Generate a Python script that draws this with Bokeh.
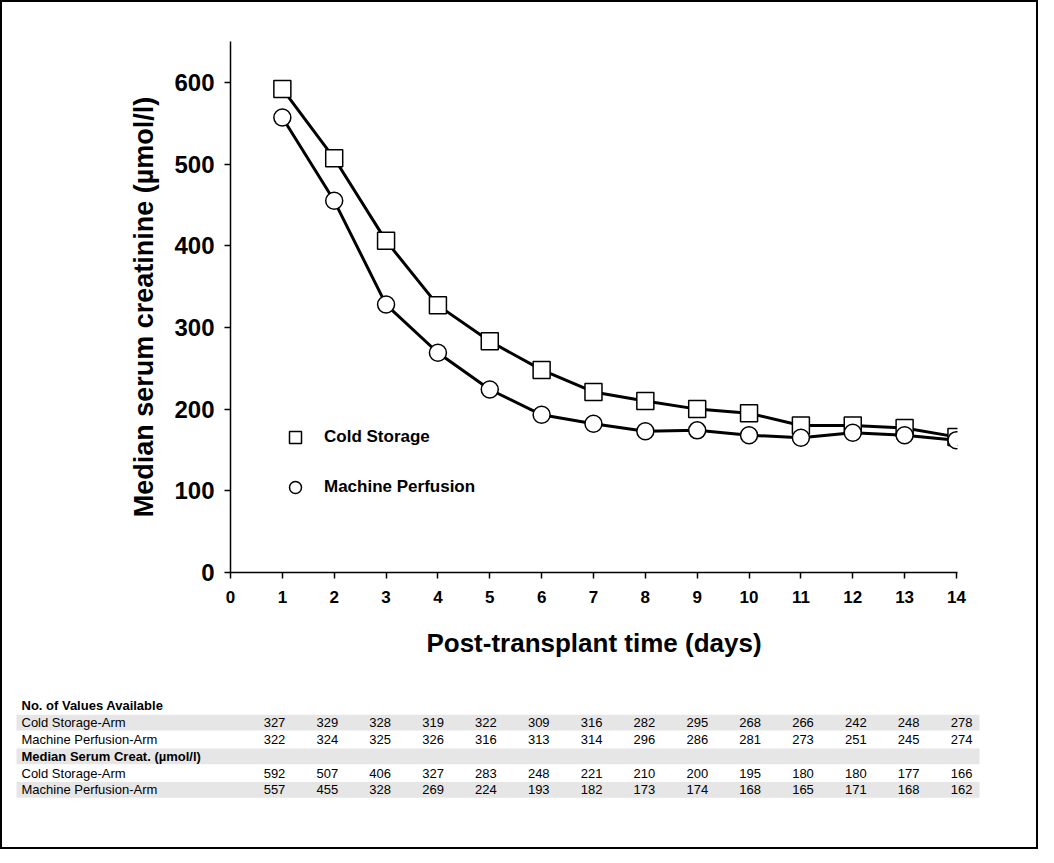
from bokeh.plotting import figure
from bokeh.models import Range1d, FixedTicker, Legend, LegendItem
from bokeh.layouts import column
from bokeh.core.properties import value
from bokeh.embed import file_html
from bokeh.resources import INLINE

days = list(range(1, 15))
n_cold = [327, 329, 328, 319, 322, 309, 316, 282, 295, 268, 266, 242, 248, 278]
n_mach = [322, 324, 325, 326, 316, 313, 314, 296, 286, 281, 273, 251, 245, 274]
med_cold = [592, 507, 406, 327, 283, 248, 221, 210, 200, 195, 180, 180, 177, 166]
med_mach = [557, 455, 328, 269, 224, 193, 182, 173, 174, 168, 165, 171, 168, 162]

FONT = "Liberation Sans"
W = 1034

p = figure(width=W, height=690, x_range=Range1d(0, 14.02), y_range=Range1d(0, 650),
           output_backend="svg", toolbar_location=None,
           min_border_left=228, min_border_right=79, min_border_top=39, min_border_bottom=120)
p.outline_line_color = None
p.grid.visible = False
p.xaxis.ticker = FixedTicker(ticks=list(range(0, 15)))
p.yaxis.ticker = FixedTicker(ticks=[0, 100, 200, 300, 400, 500, 600])
for ax in (p.xaxis[0], p.yaxis[0]):
    ax.axis_line_width = 1.5
    ax.major_tick_line_width = 1.5
    ax.major_tick_in = 0
    ax.major_tick_out = 6
    ax.minor_tick_line_color = None
    ax.major_label_text_font = FONT
    ax.major_label_text_font_style = "bold"
    ax.major_label_text_color = "black"
    ax.axis_label_text_font = FONT
    ax.axis_label_text_font_style = "bold"
    ax.axis_label_text_color = "black"
p.xaxis.major_label_text_font_size = "17px"
p.yaxis.major_label_text_font_size = "24px"
p.xaxis.axis_label = "Post-transplant time (days)"
p.xaxis.axis_label_text_font_size = "26px"
p.xaxis.axis_label_standoff = 22
p.yaxis.axis_label = "Median serum creatinine (µmol/l)"
p.yaxis.axis_label_text_font_size = "27px"
p.yaxis.axis_label_standoff = 12
p.xaxis.major_label_standoff = 12
p.yaxis.major_label_standoff = 10

p.line(days, med_cold, line_width=3, color="black")
p.line(days, med_mach, line_width=3, color="black")
rc = p.scatter(days, med_cold, marker="square", size=17, fill_color="white", line_color="black", line_width=1.5)
rm = p.scatter(days, med_mach, marker="circle", size=17, fill_color="white", line_color="black", line_width=1.5)

leg = Legend(items=[LegendItem(label="Cold Storage", renderers=[rc]),
                    LegendItem(label="Machine Perfusion", renderers=[rm])],
             location=(50, 70), background_fill_alpha=0, border_line_color=None,
             label_text_font=FONT, label_text_font_style="bold", label_text_font_size="17px",
             label_text_color="black",
             glyph_height=30, glyph_width=30, label_height=30, spacing=20, label_standoff=14)
p.add_layout(leg, "center")

t = figure(width=W, height=155, x_range=Range1d(0, W), y_range=Range1d(155, 0),
           output_backend="svg", toolbar_location=None, min_border=0,
           x_axis_location=None, y_axis_location=None)
t.outline_line_color = None
t.grid.visible = False

rows = [("No. of Values Available", None, True, False),
        ("Cold Storage-Arm", n_cold, False, True),
        ("Machine Perfusion-Arm", n_mach, False, False),
        ("Median Serum Creat. (µmol/l)", None, True, True),
        ("Cold Storage-Arm", med_cold, False, False),
        ("Machine Perfusion-Arm", med_mach, False, True)]
row_h = 16.8
y0 = 5
for i, (label, vals, bold, shade) in enumerate(rows):
    yc = y0 + i * row_h + row_h / 2
    if shade:
        t.quad(left=14, right=977, top=yc - row_h / 2 + 0.5, bottom=yc + row_h / 2 - 0.5,
               fill_color="#e6e6e6", line_color=None)
    t.text([19], [yc], text=[label], text_font=value(FONT), text_font_size="13px",
           text_font_style="bold" if bold else "normal", text_baseline="middle")
    if vals:
        xs = [272 + k * 52.85 for k in range(len(vals))]
        t.text(xs, [yc] * len(vals), text=[str(v) for v in vals], text_font=value(FONT),
               text_font_size="13px", text_align="center", text_baseline="middle")

layout = column(p, column(t), styles={"border": "2px solid black"})
open("out.html", "w").write(file_html(layout, INLINE))
